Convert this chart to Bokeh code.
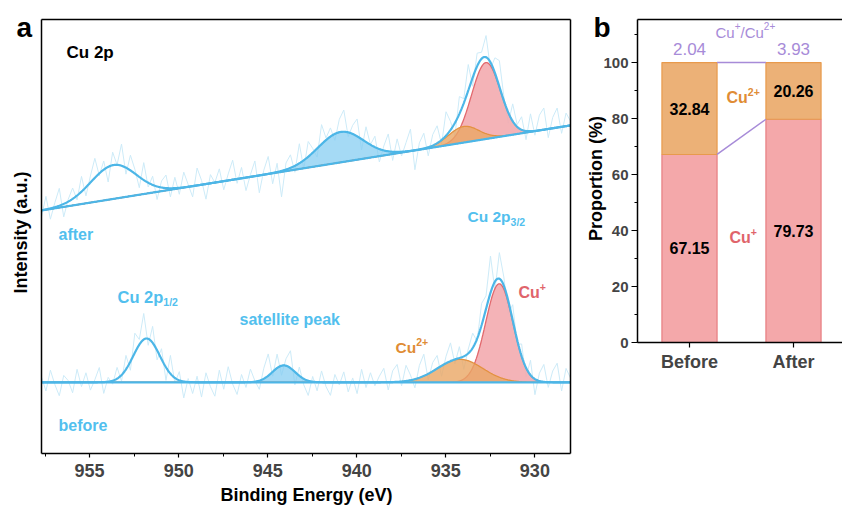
import numpy as np
from bokeh.plotting import figure
from bokeh.layouts import row
from bokeh.models import Range1d, SingleIntervalTicker, FixedTicker, Label, LinearAxis
from bokeh.core.properties import value
from bokeh.embed import file_html
from bokeh.resources import INLINE

FONT = "Liberation Sans"

# ---------------- Panel a data (Cu 2p XPS) ----------------
energy_lo, energy_hi = 928.0, 957.7
peak_names = ["Cu 2p1/2", "satellite", "Cu2+", "Cu+"]
before_centers = [951.8, 944.1, 934.2, 932.0]
before_heights = [10.1, 3.9, 5.3, 22.7]
before_fwhm = [1.75, 1.5, 3.0, 1.8]
before_baseline = [16.4, 16.4]          # at 957.7 eV, at 928 eV
after_centers = [953.65, 940.9, 934.0, 932.75]
after_heights = [7.8, 7.0, 3.7, 17.6]
after_fwhm = [3.0, 3.0, 2.0, 1.9]
after_baseline = [56.0, 75.6]
before_residual = [
    1.2, -2.0, 2.8, -0.5, -3.1, 1.6, 0.4, -2.4, 3.0, -1.0,
    2.2, -1.8, 0.6, 3.4, -2.6, 1.0, -0.8, 2.6, -1.4, 3.2,
    -2.0, 4.5, 1.2, 6.0, -1.5, 3.8, -2.2, 2.4, -3.0, 4.2,
    -1.2, 2.0, -3.8, 0.8, -2.6, 1.4, -3.4, 2.2, -1.0, -3.2,
    2.8, -1.6, 3.6, -0.4, -2.8, 1.8, -1.2, 3.0, 0.2, -2.0,
    2.4, 5.0, -1.0, 3.2, -2.2, 1.6, 4.0, -3.0, 2.0, -1.4,
    -3.4, 1.2, -2.0, 2.6, -1.0, -3.0, 1.8, -0.6, 2.4, -2.2,
    1.0, -2.6, 3.0, -1.2, 2.2, -0.8, 1.4, 3.2, -1.8, 2.6,
    4.0, -1.0, 3.6, 1.2, -2.0, 2.8, 5.0, -1.4, 2.0, 3.0,
    -2.4, 1.6, 4.2, -1.0, 2.6, -3.0, 1.0, 3.4, -0.6, 5.0,
    3.0, 8.5, -2.0, 6.0, 2.0, -3.0, 3.6, -1.0, 2.8, -2.2,
    3.4, -3.6, 1.8, 4.0, -1.2, 2.6, 4.4, -2.0, 3.2, 1.0,
]
after_residual = [
    -1.5, 3.0, -2.5, 1.0, 4.0, -3.0, 0.5, 2.5, -1.0, 3.5,
    -2.0, 1.5, 4.5, -0.5, 2.0, -3.5, 3.0, 0.0, 5.0, -1.5,
    3.5, 1.0, -2.5, 4.0, -1.0, 2.0, -3.0, 1.5, 3.0, -2.0,
    2.5, -1.5, 3.5, 0.5, -2.5, 4.0, 1.0, -3.5, 2.0, 0.0,
    3.0, -2.0, 1.5, 4.5, -1.0, 2.5, -3.0, 0.5, 3.5, -4.0,
    1.0, 4.0, -2.5, 2.0, -6.0, 1.5, 3.0, -1.5, 4.5, -2.0,
    3.5, 1.0, -2.0, 4.5, 0.5, 2.0, -1.5, 3.0, 5.0, -1.0,
    2.0, 4.0, -2.5, 3.5, 0.0, 2.5, -3.0, 1.0, 4.0, -2.0,
    3.0, -1.0, 2.0, 5.0, -4.5, 1.5, 3.5, -2.0, 2.5, 4.0,
    -1.0, 5.5, 2.0, -3.0, 4.0, 1.0, 6.0, -2.0, 3.0, 1.5,
    5.0, -1.5, 3.5, 6.0, 1.0, -2.5, 4.0, 0.5, 3.0, -2.0,
    4.0, -1.0, 3.5, 5.0, -2.0, 2.5, 4.5, -1.5, 3.0, 1.0,
]
energy_ticks_interval = 5

# ---------------- Panel b data ----------------
states = ["Before", "After"]
cu_plus = [67.15, 79.73]
cu_2plus = [32.84, 20.26]
ratio = [2.04, 3.93]
proportion_max = 115.36

# ---------------- colours ----------------
RAW = "#cdebf8"
BLUE = "#4cb6e7"
BLUE_TXT = "#52bfee"
BLUE_FILL = "#7fcaf1"
RED_LINE = "#e2686d"
RED_FILL = "#f3abaf"
ORANGE_LINE = "#e3913f"
ORANGE_FILL = "#eaa664"
RED_TXT = "#e0646b"
ORANGE_TXT = "#e08c35"
PURPLE = "#a78bd8"
BAR_PINK = "#f4a8aa"
BAR_PINK_EDGE = "#e77d80"
BAR_ORANGE = "#ecb177"
BAR_ORANGE_EDGE = "#e89a4c"

W_BOLD = {"C": 0.722, "u": 0.611, " ": 0.278, "p": 0.611, "/": 0.278, "+": 0.584,
          "1": 0.556, "2": 0.556, "3": 0.556}
W_REG = {"C": 0.722, "u": 0.556, " ": 0.278, "p": 0.556, "/": 0.278, "+": 0.584,
         "1": 0.556, "2": 0.556, "3": 0.556}
MID = 0.36        # distance from baseline to the middle of capitals, in em

H = 508
PA_W, PB_W = 575, 267


class Placer:
    """Places labels at page pixel positions (frame fills the whole canvas).
    py is the text baseline unless a centre is given explicitly."""

    def __init__(self, p, fig_left):
        self.p = p
        self.fl = fig_left

    def _label(self, px, py_mid, text, color, size, bold, angle=0.0, align="left",
               x_offset=0.0, y_offset=0.0):
        self.p.add_layout(Label(x=px - self.fl, y=H - py_mid,
                                x_units="screen", y_units="screen", text=text,
                                angle=angle, x_offset=x_offset, y_offset=y_offset,
                                text_font=FONT, text_font_size=f"{size}px",
                                text_font_style="bold" if bold else "normal",
                                text_color=color, text_baseline="middle",
                                text_align=align))

    def plain(self, px, py, text, color, size, bold=True, align="left"):
        self._label(px, py - MID * size, text, color, size, bold, align=align)

    def vertical(self, px_center, py_center, text, color, size, bold=True):
        self._label(px_center, py_center, text, color, size, bold,
                    angle=np.pi / 2, align="center")

    def rich(self, px, py, pieces, color, bold=True):
        widths = W_BOLD if bold else W_REG
        off = 0.0
        for t, s, d in pieces:
            self._label(px, py - MID * s, t, color, s, bold, x_offset=off, y_offset=d)
            off += sum(widths[ch] for ch in t) * s


def gauss(x, c, h, w):
    return h * np.exp(-4 * np.log(2) * (x - c) ** 2 / w ** 2)


def blank_axis(loc, bounds):
    return LinearAxis(ticker=FixedTicker(ticks=[]), fixed_location=loc, bounds=bounds,
                      axis_line_width=1.5, axis_line_color="black",
                      major_label_text_font_size="0px", major_tick_out=0,
                      minor_tick_out=0)


# ---------------- Panel a ----------------
A_LEFT, A_RIGHT, A_TOP, A_BOTTOM = 41, 570, 19, 453    # page px of the plot box
ex = (A_RIGHT - A_LEFT) / (energy_hi - energy_lo)      # px per eV
ey = (A_BOTTOM - A_TOP) / 100.0                          # px per unit
pa = figure(width=PA_W, height=H,
            x_range=Range1d(energy_hi + A_LEFT / ex, energy_lo - (PA_W - A_RIGHT) / ex),
            y_range=Range1d(-(H - A_BOTTOM) / ey, 100 + A_TOP / ey),
            output_backend="svg", toolbar_location=None,
            min_border_left=0, min_border_right=0, min_border_top=0,
            min_border_bottom=0)
pa.grid.visible = False
pa.outline_line_color = None

xf = np.linspace(energy_hi, energy_lo, 900)

for centers, heights, fwhm, base, resid in [
        (before_centers, before_heights, before_fwhm, before_baseline, before_residual),
        (after_centers, after_heights, after_fwhm, after_baseline, after_residual)]:
    xr = np.linspace(energy_hi, energy_lo, len(resid))
    base_f = np.interp(xf, [energy_lo, energy_hi], [base[1], base[0]])
    base_r = np.interp(xr, [energy_lo, energy_hi], [base[1], base[0]])
    comps = [gauss(xf, c, h, w) for c, h, w in zip(centers, heights, fwhm)]
    env = base_f + sum(comps)
    raw = base_r + sum(gauss(xr, c, h, w) for c, h, w in zip(centers, heights, fwhm)) \
        + np.array(resid)
    pa.line(xr, raw, line_color=RAW, line_width=1)
    pa.varea(x=xf, y1=base_f, y2=base_f + comps[1], fill_color=BLUE_FILL, fill_alpha=0.7)
    pa.line(xf, base_f + comps[1], line_color=BLUE, line_width=1.2)
    pa.varea(x=xf, y1=base_f, y2=base_f + comps[3], fill_color=RED_FILL, fill_alpha=0.9)
    pa.line(xf, base_f + comps[3], line_color=RED_LINE, line_width=1.3)
    pa.varea(x=xf, y1=base_f, y2=base_f + comps[2], fill_color=ORANGE_FILL, fill_alpha=0.8)
    pa.line(xf, base_f + comps[2], line_color=ORANGE_LINE, line_width=1.3)
    pa.line(xf, env, line_color=BLUE, line_width=2.2)
    pa.line(xf, base_f, line_color=BLUE, line_width=2.2)

ax = pa.below[0]
ax.fixed_location = 0
ax.bounds = (energy_hi, energy_lo)
ax.ticker = SingleIntervalTicker(interval=energy_ticks_interval, num_minor_ticks=2)
ax.major_label_text_font = FONT
ax.major_label_text_font_style = "bold"
ax.major_label_text_font_size = "18px"
ax.major_label_standoff = 6
ax.major_tick_in = 0
ax.major_tick_out = 4
ax.minor_tick_in = 0
ax.minor_tick_out = 3
ax.axis_line_width = 1.5
ax.major_tick_line_width = 1.2
ay = pa.left[0]
ay.fixed_location = energy_hi
ay.bounds = (0, 100)
ay.ticker = FixedTicker(ticks=[])
ay.major_label_text_font_size = "0px"
ay.major_tick_out = 0
ay.minor_tick_out = 0
ay.axis_line_width = 1.5
pa.add_layout(blank_axis(100, (energy_hi, energy_lo)), "above")
pa.add_layout(blank_axis(energy_lo, (0, 100)), "right")

A = Placer(pa, 0)
A.plain(16, 37, "a", "black", 28)
A.vertical(20, 232, "Intensity (a.u.)", "black", 18)
A.plain(306, 501, "Binding Energy (eV)", "black", 18, align="center")
A.plain(66, 58, "Cu 2p", "black", 17)
A.plain(58, 240, "after", BLUE_TXT, 16)
A.plain(58, 431, "before", BLUE_TXT, 16)
A.rich(117, 302, [("Cu 2p", 16.5, 0), ("1/2", 10.5, -3)], BLUE_TXT)
A.plain(239, 325, "satellite peak", BLUE_TXT, 16)
A.rich(395, 353, [("Cu", 15.5, 0), ("2+", 10.5, 8)], ORANGE_TXT)
A.rich(518, 298, [("Cu", 16, 0), ("+", 10.5, 8)], RED_TXT)
A.rich(467, 222, [("Cu 2p", 15.5, 0), ("3/2", 10.5, -3)], BLUE_TXT)

# ---------------- Panel b ----------------
B_ORIGIN = PA_W        # page x where panel b canvas begins
B_LEFT = 637           # page x of the y axis
B_ZERO = 342           # page y of 0 %
B_CAT = 104.0          # px between the two bars
B_PPU = 2.8            # px per %
pb = figure(width=PB_W, height=H,
            x_range=Range1d(-0.5 - (B_LEFT - B_ORIGIN) / B_CAT,
                            -0.5 + (B_ORIGIN + PB_W - B_LEFT) / B_CAT),
            y_range=Range1d(-(H - B_ZERO) / B_PPU, B_ZERO / B_PPU),
            output_backend="svg", toolbar_location=None,
            min_border_left=0, min_border_right=0, min_border_top=0,
            min_border_bottom=0)
pb.grid.visible = False
pb.outline_line_color = None
x_right = pb.x_range.end

xs = list(range(len(states)))
bw = 0.53
tops = [a + b for a, b in zip(cu_plus, cu_2plus)]
pb.vbar(x=xs, width=bw, bottom=0, top=cu_plus, fill_color=BAR_PINK,
        line_color=BAR_PINK_EDGE, line_width=1.2)
pb.vbar(x=xs, width=bw, bottom=cu_plus, top=tops, fill_color=BAR_ORANGE,
        line_color=BAR_ORANGE_EDGE, line_width=1.2)
pb.segment(x0=[xs[0] + bw / 2] * 2, y0=[tops[0], cu_plus[0]],
           x1=[xs[1] - bw / 2] * 2, y1=[tops[1], cu_plus[1]],
           line_color=PURPLE, line_width=1.5)

pb.text(x=xs, y=[v / 2 for v in cu_plus], text=[f"{v:.2f}" for v in cu_plus],
        text_font=value(FONT), text_font_style="bold", text_font_size="16px",
        text_align="center", text_baseline="middle", text_color="black")
pb.text(x=xs, y=[a + b / 2 for a, b in zip(cu_plus, cu_2plus)],
        text=[f"{v:.2f}" for v in cu_2plus],
        text_font=value(FONT), text_font_style="bold", text_font_size="16px",
        text_align="center", text_baseline="middle", text_color="black")
pb.text(x=xs, y=[t + 14 / B_PPU for t in tops], text=[f"{v:.2f}" for v in ratio],
        text_font=value(FONT), text_font_style="normal", text_font_size="17px",
        text_align="center", text_baseline="middle", text_color=PURPLE)

B = Placer(pb, B_ORIGIN)
B.rich(715, 37, [("Cu", 15, 0), ("+", 10, 8), ("/Cu", 15, 0), ("2+", 10, 8)],
       PURPLE, bold=False)
B.rich(726, 103, [("Cu", 16, 0), ("2+", 10.5, 8)], ORANGE_TXT)
B.rich(729, 243, [("Cu", 16, 0), ("+", 10.5, 8)], RED_TXT)
B.plain(593, 37, "b", "black", 28)
B.vertical(595, 178, "Proportion (%)", "black", 18)

bx = pb.below[0]
bx.fixed_location = 0
bx.bounds = (-0.5, x_right)
bx.ticker = FixedTicker(ticks=xs)
bx.major_label_overrides = {i: s for i, s in zip(xs, states)}
bx.major_label_text_font = FONT
bx.major_label_text_font_style = "bold"
bx.major_label_text_font_size = "18px"
bx.major_label_standoff = 4
bx.major_tick_in = 0
bx.major_tick_out = 5
bx.minor_tick_line_color = None
bx.axis_line_width = 1.5
bx.major_tick_line_width = 1.2
by = pb.left[0]
by.fixed_location = -0.5
by.bounds = (0, proportion_max)
by.ticker = SingleIntervalTicker(interval=20, num_minor_ticks=2)
by.major_label_text_font = FONT
by.major_label_text_font_style = "bold"
by.major_label_text_font_size = "15px"
by.major_label_standoff = 3
by.major_tick_in = 0
by.major_tick_out = 6
by.minor_tick_in = 0
by.minor_tick_out = 3
by.axis_line_width = 1.5
by.major_tick_line_width = 1.2
pb.add_layout(blank_axis(proportion_max, (-0.5, x_right)), "above")

layout = row(pa, pb)
open("out.html", "w").write(file_html(layout, INLINE))
